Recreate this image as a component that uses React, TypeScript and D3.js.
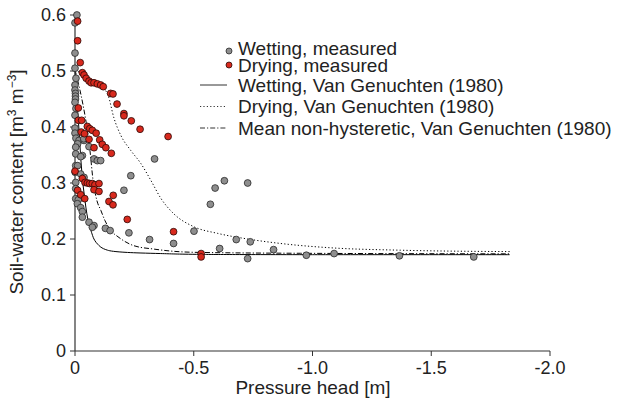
import React from "react";
import * as d3 from "d3";

// Measured data: [pressure head (m), soil-water content (m3/m3)]
const wettingMeasured: [number, number][] = [
  [-0.008, 0.6], [0, 0.586], [0, 0.532], [0, 0.505], [-0.004, 0.487], [0, 0.475],
  [0, 0.466], [-0.002, 0.46], [-0.002, 0.455], [-0.002, 0.45], [0, 0.444], [-0.004, 0.433],
  [0, 0.421], [0, 0.398], [0, 0.389], [-0.004, 0.38], [-0.017, 0.376], [-0.038, 0.376],
  [-0.037, 0.379], [-0.011, 0.37], [-0.003, 0.364], [-0.059, 0.365], [-0.003, 0.352],
  [-0.031, 0.349], [-0.024, 0.347], [-0.08, 0.343], [-0.094, 0.34], [-0.108, 0.34],
  [-0.003, 0.331], [-0.011, 0.331], [-0.001, 0.319], [-0.024, 0.316], [-0.038, 0.31],
  [-0.003, 0.301], [-0.003, 0.29], [-0.003, 0.272], [-0.014, 0.27], [-0.01, 0.263],
  [-0.024, 0.256], [-0.031, 0.249], [-0.031, 0.239], [-0.059, 0.23], [-0.08, 0.224],
  [-0.073, 0.221], [-0.128, 0.219], [-0.148, 0.215], [-0.227, 0.211], [-0.206, 0.287],
  [-0.235, 0.313], [-0.335, 0.343], [-0.314, 0.199], [-0.415, 0.192], [-0.501, 0.214],
  [-0.57, 0.262], [-0.59, 0.291], [-0.629, 0.304], [-0.727, 0.3], [-0.679, 0.199],
  [-0.738, 0.195], [-0.609, 0.183], [-0.836, 0.181], [-0.727, 0.165], [-0.974, 0.171],
  [-1.091, 0.174], [-1.366, 0.17], [-1.679, 0.168],
];

const dryingMeasured: [number, number][] = [
  [-0.011, 0.589], [-0.011, 0.554], [-0.022, 0.515], [-0.031, 0.497], [-0.038, 0.493],
  [-0.047, 0.487], [-0.059, 0.482], [-0.068, 0.479], [-0.08, 0.479], [-0.094, 0.477],
  [-0.108, 0.475], [-0.119, 0.472], [-0.15, 0.46], [-0.16, 0.459], [-0.177, 0.441],
  [-0.206, 0.424], [-0.206, 0.42], [-0.237, 0.411], [-0.274, 0.396], [-0.392, 0.383],
  [-0.014, 0.434], [-0.014, 0.412], [-0.028, 0.412], [-0.052, 0.401], [-0.062, 0.397],
  [-0.073, 0.394], [-0.026, 0.391], [-0.04, 0.388], [-0.089, 0.389], [-0.059, 0.378],
  [-0.104, 0.377], [-0.115, 0.369], [-0.13, 0.363], [-0.153, 0.353], [-0.08, 0.363],
  [0, 0.321], [-0.031, 0.308], [-0.042, 0.301], [-0.052, 0.3], [-0.062, 0.299],
  [-0.073, 0.299], [-0.084, 0.297], [-0.101, 0.299], [-0.08, 0.288], [-0.101, 0.285],
  [-0.011, 0.287], [-0.024, 0.279], [-0.041, 0.272], [-0.161, 0.278], [-0.143, 0.267],
  [-0.16, 0.261], [-0.22, 0.235], [-0.415, 0.213], [-0.531, 0.174], [-0.531, 0.168],
];

// Fitted curves
const wettingCurve: [number, number][] = [
  [0, 0.502], [-0.008, 0.448], [-0.017, 0.394], [-0.025, 0.34], [-0.034, 0.296],
  [-0.042, 0.269], [-0.05, 0.245], [-0.067, 0.215], [-0.095, 0.191], [-0.137, 0.18],
  [-0.221, 0.176], [-0.361, 0.174], [-0.531, 0.1725], [-1.0, 0.172], [-1.83, 0.172],
];

const dryingCurve: [number, number][] = [
  [0, 0.502], [-0.046, 0.491], [-0.109, 0.473], [-0.139, 0.457], [-0.164, 0.416],
  [-0.193, 0.385], [-0.235, 0.358], [-0.277, 0.335], [-0.319, 0.305], [-0.361, 0.273],
  [-0.416, 0.245], [-0.5, 0.222], [-0.601, 0.21], [-0.727, 0.2], [-0.866, 0.192],
  [-1.088, 0.184], [-1.37, 0.18], [-1.83, 0.1775],
];

const meanCurve: [number, number][] = [
  [0, 0.502], [-0.017, 0.473], [-0.034, 0.439], [-0.05, 0.4], [-0.063, 0.358],
  [-0.076, 0.305], [-0.092, 0.269], [-0.109, 0.251], [-0.126, 0.233], [-0.151, 0.215],
  [-0.181, 0.204], [-0.248, 0.188], [-0.332, 0.182], [-0.416, 0.178], [-0.529, 0.176],
  [-0.95, 0.1745], [-1.83, 0.1735],
];

const xTicks = [0, -0.5, -1.0, -1.5, -2.0];
const xTickLabels = ["0", "-0.5", "-1.0", "-1.5", "-2.0"];
const yTicks = [0, 0.1, 0.2, 0.3, 0.4, 0.5, 0.6];
const yTickLabels = ["0", "0.1", "0.2", "0.3", "0.4", "0.5", "0.6"];

const legendPoints = ["Wetting, measured", "Drying, measured"];
const legendLines = [
  "Wetting, Van Genuchten (1980)",
  "Drying, Van Genuchten (1980)",
  "Mean non-hysteretic, Van Genuchten (1980)",
];

const FONT = "'Liberation Sans', Arial, Helvetica, sans-serif";
const GREY = "#8e8e8e";
const RED = "#d8291d";
const AXIS = "#333";

export default function App() {
  const x = d3.scaleLinear().domain([0, -2]).range([75, 550]);
  const y = d3.scaleLinear().domain([0, 0.6]).range([351, 15]);
  const line = d3
    .line<[number, number]>()
    .x((d) => x(d[0]))
    .y((d) => y(d[1]))
    .curve(d3.curveMonotoneX);
  const lineY = d3
    .line<[number, number]>()
    .x((d) => x(d[0]))
    .y((d) => y(d[1]))
    .curve(d3.curveMonotoneY);

  const curveStyles = [
    { data: wettingCurve, dash: undefined as string | undefined, gen: lineY },
    { data: dryingCurve, dash: "1.2,2.2", gen: line },
    { data: meanCurve, dash: "5,2,1.2,2", gen: line },
  ];

  const r = 3.4;
  return (
    <svg
      width={618}
      height={402}
      style={{ position: "absolute", left: 0, top: 0, background: "#fff" }}
      fontFamily={FONT}
    >
      {/* curves */}
      {curveStyles.map((c, i) => (
        <path
          key={i}
          d={c.gen(c.data) || ""}
          fill="none"
          stroke="#000"
          strokeWidth={1}
          strokeDasharray={c.dash}
        />
      ))}

      {/* axes */}
      <line x1={x(0)} x2={x(0)} y1={y(0)} y2={y(0.6)} stroke={AXIS} strokeWidth={1.2} />
      <line x1={x(0)} x2={x(-2)} y1={y(0)} y2={y(0)} stroke={AXIS} strokeWidth={1.2} />
      {yTicks.map((t, i) => (
        <g key={"y" + i}>
          <line x1={x(0) - 5} x2={x(0)} y1={y(t)} y2={y(t)} stroke={AXIS} strokeWidth={1} />
          <text x={x(0) - 9} y={y(t)} dy="0.36em" textAnchor="end" fontSize={18} fill="#222">
            {yTickLabels[i]}
          </text>
        </g>
      ))}
      {xTicks.map((t, i) => (
        <g key={"x" + i}>
          <line x1={x(t)} x2={x(t)} y1={y(0)} y2={y(0) + 5} stroke={AXIS} strokeWidth={1} />
          <text x={x(t)} y={y(0) + 23} textAnchor="middle" fontSize={18} fill="#222">
            {xTickLabels[i]}
          </text>
        </g>
      ))}

      {/* points */}
      {wettingMeasured.map((d, i) => (
        <circle key={"w" + i} cx={x(d[0])} cy={y(d[1])} r={r} fill={GREY} stroke="#2a2a2a" strokeWidth={0.8} />
      ))}
      {dryingMeasured.map((d, i) => (
        <circle key={"d" + i} cx={x(d[0])} cy={y(d[1])} r={r} fill={RED} stroke="#2a0a08" strokeWidth={0.8} />
      ))}

      {/* axis titles */}
      <text x={313} y={394} textAnchor="middle" fontSize={19} fill="#222">
        Pressure head [m]
      </text>
      <text transform="translate(23,182) rotate(-90)" textAnchor="middle" fontSize={19} fill="#222">
        Soil-water content [m
        <tspan fontSize={12} dy={-7}>3</tspan>
        <tspan dy={7}> m</tspan>
        <tspan fontSize={12} dy={-7}>−3</tspan>
        <tspan dy={7}>]</tspan>
      </text>

      {/* legend */}
      {legendPoints.map((t, i) => (
        <g key={"lp" + i}>
          <circle cx={229} cy={51 + i * 14} r={3} fill={i === 0 ? GREY : RED} stroke={i === 0 ? "#2a2a2a" : "#2a0a08"} strokeWidth={0.8} />
          <text x={238} y={48.5 + i * 16.5} dy="0.35em" fontSize={19} fill="#222">
            {t}
          </text>
        </g>
      ))}
      {legendLines.map((t, i) => (
        <g key={"ll" + i}>
          <line
            x1={200}
            x2={227}
            y1={85 + i * 21.5}
            y2={85 + i * 21.5}
            stroke="#333"
            strokeWidth={1}
            strokeDasharray={curveStyles[i].dash}
          />
          <text x={238} y={85 + i * 21.5} dy="0.35em" fontSize={19} fill="#222">
            {t}
          </text>
        </g>
      ))}
    </svg>
  );
}
